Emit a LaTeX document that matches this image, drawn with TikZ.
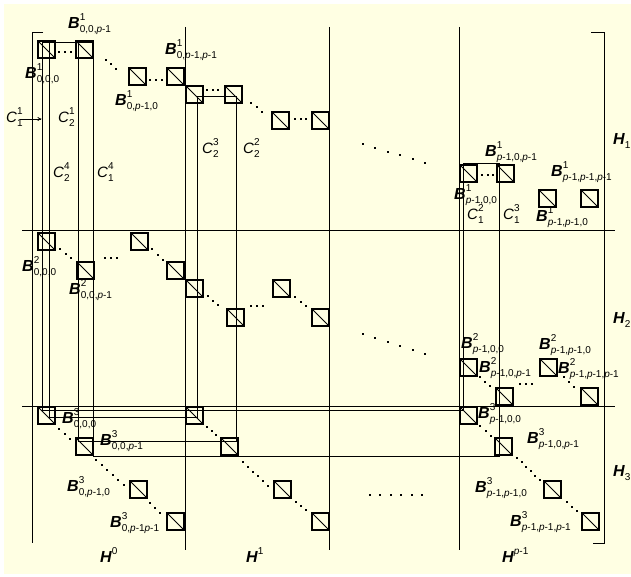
\documentclass[tikz,border=0pt]{standalone}
\usepackage{fontspec}
\setmainfont{Liberation Sans}
\usetikzlibrary{arrows.meta,calc}
\definecolor{cream}{HTML}{FFFFE3}
\newcommand{\subsz}{\fontsize{10}{10}\selectfont}
\newcommand{\lab}[3]{#1\kern0.3pt\rlap{\raisebox{8pt}{\subsz #2}}\raisebox{-4pt}{\subsz #3}}
\newcommand{\BB}{{\fontsize{16}{16}\selectfont\bfseries\itshape B}}
\newcommand{\HH}{{\fontsize{16}{16}\selectfont\bfseries\itshape H}}
\newcommand{\CC}{{\fontsize{15}{15}\selectfont\itshape C}}
\newcommand{\pp}{\textit{p}}
% a row of n+1 square dots between two points
\newcommand{\dotrow}[5]{\foreach \k in {0,...,#5}{\fill ($(#1,#2)!{\k/#5}!(#3,#4)$) +(-1,-1) rectangle +(1,1);}}
\begin{document}
\begin{tikzpicture}[x=1pt,y=-1pt,
  blk/.style={draw, line width=1.9pt, minimum size=17.5pt, inner sep=0pt,
    path picture={\draw[line width=0.9pt] (path picture bounding box.north west) -- (path picture bounding box.south east);}},
  lbl/.style={anchor=base west, inner sep=0pt, outer sep=0pt},
  wire/.style={line width=1pt}]
\useasboundingbox (0,0) rectangle (631,577);
\fill[white] (0,0) rectangle (631,577);
\fill[cream] (4,4) rectangle (631,574);

% frame of the three layers and three sections
\draw[wire] (22,231) -- (615,231);
\draw[wire] (22,406) -- (615,406);
\foreach \xx in {185,329,459} \draw[wire] (\xx,27) -- (\xx,550);
\draw[wire] (43,33) -- (32,33) -- (32,543);
\draw[wire] (591,33) -- (604,33) -- (604,543) -- (593,543);

% the two cycles
\draw[wire] (42,410) -- (42,43) -- (93,43) -- (93,456) -- (499,456) -- (499,164) -- (463,164) -- (463,410) -- cycle;
\draw[wire] (49,417) -- (49,43) -- (78,43) -- (78,441) -- (236,441) -- (236,97) -- (197,97) -- (197,417) -- cycle;

% blocks of layer 1
\node[blk] (S1) at (46.5,49.5) {};
\node[blk] (S2) at (84.5,49.5) {};
\node[blk] (S3) at (137.5,76.5) {};
\node[blk] (S4) at (175.5,76.5) {};
\node[blk] (S5) at (194.5,94.5) {};
\node[blk] (S6) at (233.5,94.5) {};
\node[blk] (S7) at (280.5,120.5) {};
\node[blk] (S8) at (320.5,120.5) {};
\node[blk] (S9) at (468.5,173.5) {};
\node[blk] (S10) at (505.5,173.5) {};
\node[blk] (S11) at (547.5,198.5) {};
\node[blk] (S12) at (589.5,198.5) {};
% blocks of layer 2
\node[blk] (T1) at (46.5,241.5) {};
\node[blk] (T2) at (85.5,270.5) {};
\node[blk] (T3) at (139.5,241.5) {};
\node[blk] (T4) at (175.5,270.5) {};
\node[blk] (T5) at (194.5,288.5) {};
\node[blk] (T6) at (235.5,317.5) {};
\node[blk] (T7) at (281.5,288.5) {};
\node[blk] (T8) at (320.5,317.5) {};
\node[blk] (T9) at (468.5,367.5) {};
\node[blk] (T10) at (504.5,396.5) {};
\node[blk] (T11) at (548.5,367.5) {};
\node[blk] (T12) at (589.5,396.5) {};
% blocks of layer 3
\node[blk] (U1) at (46.5,415.5) {};
\node[blk] (U2) at (84.5,446.5) {};
\node[blk] (U3) at (138.5,489.5) {};
\node[blk] (U4) at (175.5,521.5) {};
\node[blk] (U5) at (194.5,415.5) {};
\node[blk] (U6) at (229.5,446.5) {};
\node[blk] (U7) at (282.5,489.5) {};
\node[blk] (U8) at (320.5,521.5) {};
\node[blk] (V1) at (468.5,415.5) {};
\node[blk] (V2) at (503.5,446.5) {};
\node[blk] (V3) at (552.5,489.5) {};
\node[blk] (V4) at (590.5,521.5) {};

% ellipses
\dotrow{59}{52}{71}{52}{2}
\dotrow{106}{60}{116}{69}{2}
\dotrow{150}{80}{162}{80}{2}
\dotrow{207}{90}{218}{90}{2}
\dotrow{251}{103}{262}{112}{2}
\dotrow{295}{119}{306}{119}{2}
\dotrow{363}{144}{425}{163}{5}
\dotrow{482}{175}{493}{175}{2}
\dotrow{60}{249}{71}{258}{2}
\dotrow{105}{258}{117}{258}{2}
\dotrow{152}{249}{163}{260}{2}
\dotrow{208}{296}{218}{305}{2}
\dotrow{251}{306}{263}{306}{2}
\dotrow{295}{297}{306}{306}{2}
\dotrow{363}{334}{425}{354}{5}
\dotrow{480}{377}{490}{386}{2}
\dotrow{520}{384}{532}{384}{2}
\dotrow{564}{377}{574}{387}{2}
\dotrow{59}{429}{70}{439}{2}
\dotrow{96}{460}{124}{485}{5}
\dotrow{150}{503}{160}{513}{2}
\dotrow{207}{427}{216}{435}{2}
\dotrow{243}{462}{268}{486}{5}
\dotrow{296}{502}{306}{510}{2}
\dotrow{370}{495}{422}{495}{5}
\dotrow{480}{426}{491}{436}{2}
\dotrow{517}{458}{540}{480}{5}
\dotrow{567}{502}{577}{511}{2}

% labels of layer 1
\node[lbl] (lS2) at (68,29) {\lab{\BB}{1}{0,0,\pp-1}};
\node[lbl] (lS1) at (25,79) {\lab{\BB}{1}{0,0,0}};
\node[lbl] (lS3) at (115,106) {\lab{\BB}{1}{0,\pp-1,0}};
\node[lbl] (lS4) at (165,55) {\lab{\BB}{1}{0,\pp-1,\pp-1}};
\node[lbl] (lS10) at (485,157) {\lab{\BB}{1}{\pp-1,0,\pp-1}};
\node[lbl] (lS9) at (454,200) {\lab{\BB}{1}{\pp-1,0,0}};
\node[lbl] (lS12) at (551,177) {\lab{\BB}{1}{\pp-1,\pp-1,\pp-1}};
\node[lbl] (lS11) at (536,222) {\lab{\BB}{1}{\pp-1,\pp-1,0}};
% cycle labels
\node[lbl] (C11) at (6,123) {\lab{\CC}{1}{1}};
\coordinate (a11) at (41.5,119);
\draw[line width=0.8pt,-{To[length=4pt,width=4pt]}] (20,119) -- (a11);
\node[lbl] (C21) at (58,123) {\lab{\CC}{1}{2}};
\node[lbl] (C24) at (53,178) {\lab{\CC}{4}{2}};
\node[lbl] (C14) at (97,178) {\lab{\CC}{4}{1}};
\node[lbl] (C23) at (202,154) {\lab{\CC}{3}{2}};
\node[lbl] (C22) at (243,154) {\lab{\CC}{2}{2}};
\node[lbl] (C12) at (467,219) {\lab{\CC}{2}{1}};
\node[lbl] (C13) at (503,219) {\lab{\CC}{3}{1}};
% labels of layer 2
\node[lbl] (lT1) at (22,271) {\lab{\BB}{2}{0,0,0}};
\node[lbl] (lT2) at (69,294) {\lab{\BB}{2}{0,0,\pp-1}};
\node[lbl] (lT9) at (461,348) {\lab{\BB}{2}{\pp-1,0,0}};
\node[lbl] (lT10) at (479,372) {\lab{\BB}{2}{\pp-1,0,\pp-1}};
\node[lbl] (lT11) at (539,349) {\lab{\BB}{2}{\pp-1,\pp-1,0}};
\node[lbl] (lT12) at (558,373) {\lab{\BB}{2}{\pp-1,\pp-1,\pp-1}};
% labels of layer 3
\node[lbl] (lU1) at (62,423) {\lab{\BB}{3}{0,0,0}};
\node[lbl] (lU2) at (100,445) {\lab{\BB}{3}{0,0,\pp-1}};
\node[lbl] (lU3) at (67,491) {\lab{\BB}{3}{0,\pp-1,0}};
\node[lbl] (lU4) at (110,527) {\lab{\BB}{3}{0,\pp-1\pp-1}};
\node[lbl] (lV1) at (478,418) {\lab{\BB}{3}{\pp-1,0,0}};
\node[lbl] (lV2) at (527,443) {\lab{\BB}{3}{\pp-1,0,\pp-1}};
\node[lbl] (lV3) at (475,492) {\lab{\BB}{3}{\pp-1,\pp-1,0}};
\node[lbl] (lV4) at (510,526) {\lab{\BB}{3}{\pp-1,\pp-1,\pp-1}};
% layer and section names
\node[lbl] (H1) at (613,145) {\lab{\HH}{}{1}};
\node[lbl] (H2) at (613,323) {\lab{\HH}{}{2}};
\node[lbl] (H3) at (613,476) {\lab{\HH}{}{3}};
\node[lbl] (Hs0) at (100,562) {\lab{\HH}{0}{}};
\node[lbl] (Hs1) at (246,562) {\lab{\HH}{1}{}};
\node[lbl] (Hsp) at (502,562) {\lab{\HH}{\pp-1}{}};
\end{tikzpicture}
\end{document}
